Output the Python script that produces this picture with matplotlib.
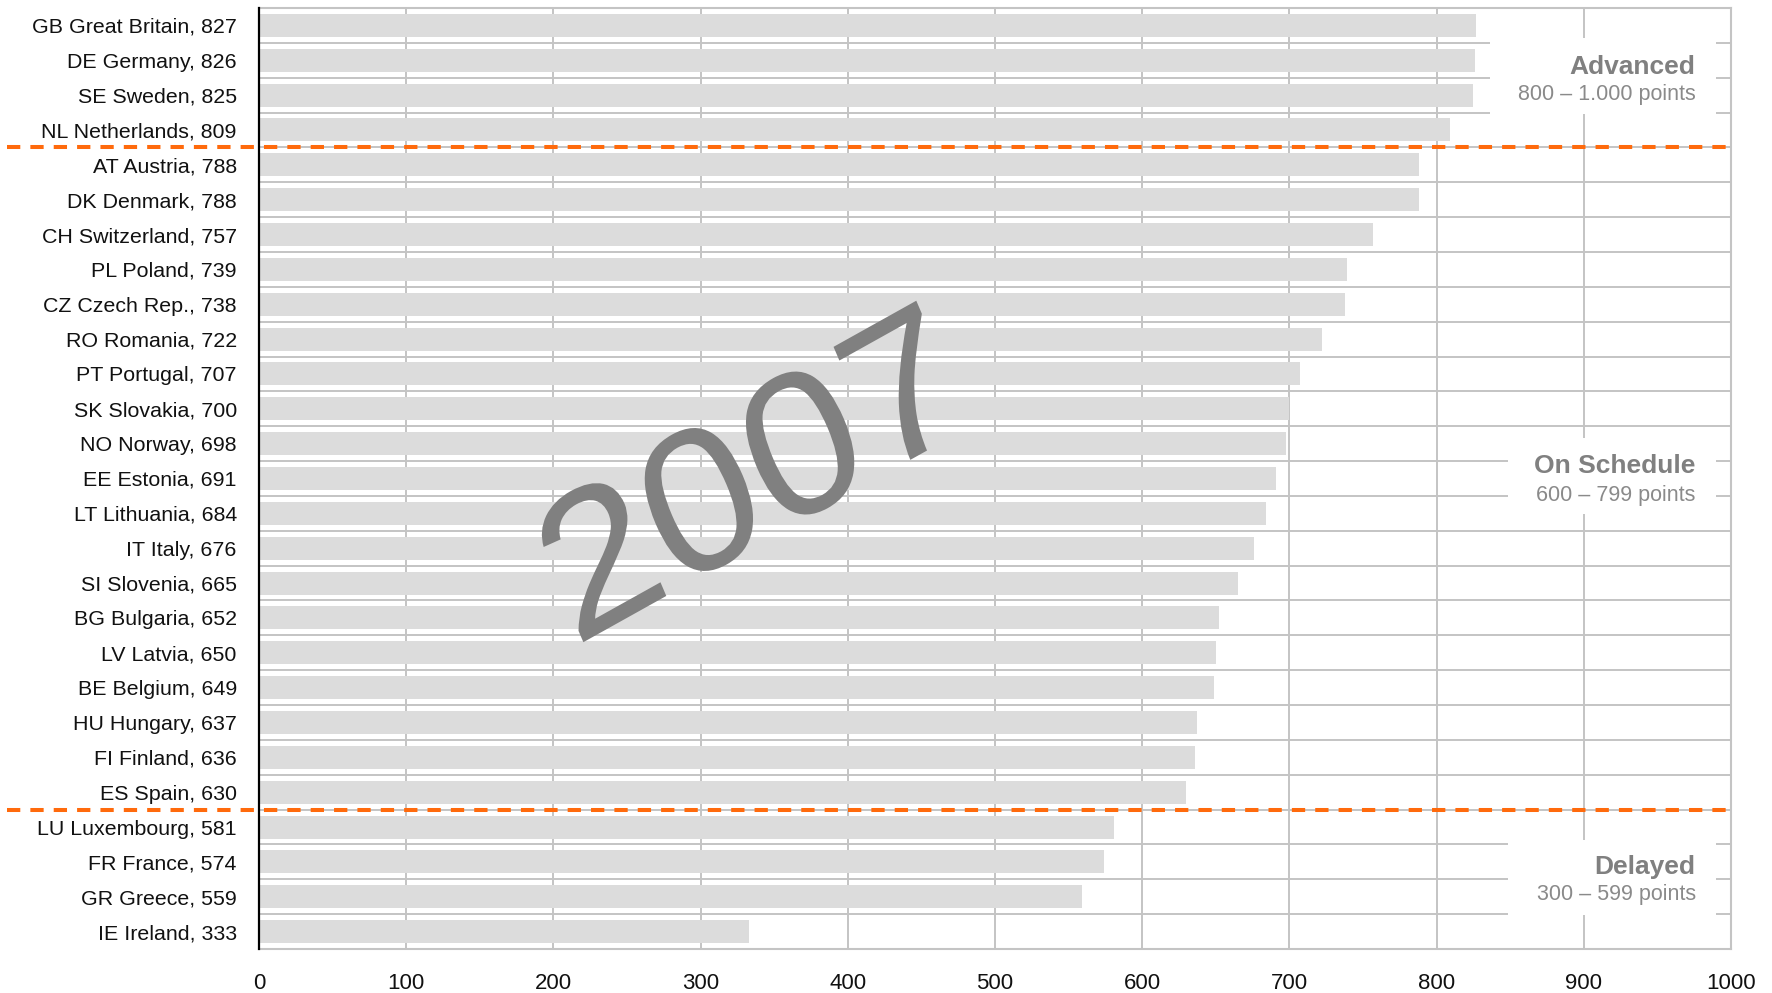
import matplotlib
matplotlib.use("Agg")
import matplotlib.pyplot as plt
import numpy as np
from matplotlib.textpath import TextPath
from matplotlib.font_manager import FontProperties
from matplotlib.patches import PathPatch, Rectangle
from matplotlib.transforms import Affine2D
from matplotlib.lines import Line2D

plt.rcParams['font.family'] = ['Liberation Sans', 'DejaVu Sans']

codes = ["GB", "DE", "SE", "NL", "AT", "DK", "CH", "PL", "CZ", "RO", "PT", "SK", "NO",
         "EE", "LT", "IT", "SI", "BG", "LV", "BE", "HU", "FI", "ES", "LU", "FR", "GR", "IE"]
countries = ["Great Britain", "Germany", "Sweden", "Netherlands", "Austria", "Denmark",
             "Switzerland", "Poland", "Czech Rep.", "Romania", "Portugal", "Slovakia",
             "Norway", "Estonia", "Lithuania", "Italy", "Slovenia", "Bulgaria", "Latvia",
             "Belgium", "Hungary", "Finland", "Spain", "Luxembourg", "France", "Greece",
             "Ireland"]
scores = [827, 826, 825, 809, 788, 788, 757, 739, 738, 722, 707, 700, 698, 691, 684,
          676, 665, 652, 650, 649, 637, 636, 630, 581, 574, 559, 333]
x_ticks = [0, 100, 200, 300, 400, 500, 600, 700, 800, 900, 1000]
group_titles = ["Advanced", "On Schedule", "Delayed"]
group_ranges = ["800 – 1.000 points", "600 – 799 points", "300 – 599 points"]
year_label = "2007"

W, H = 1772, 993
fig = plt.figure(figsize=(W / 100, H / 100), dpi=100)
ax = fig.add_axes([259 / W, 1 - 949 / H, (1731 - 259) / W, (949 - 8) / H])

n = len(scores)
y = np.arange(n)
labels = [f"{c} {nm}, {v}" for c, nm, v in zip(codes, countries, scores)]

ax.barh(y, scores, height=0.66, color="#dcdcdc", zorder=2)
ax.set_xlim(0, 1000)
ax.set_ylim(n - 0.5, -0.5)
ax.set_xticks(x_ticks)
ax.set_xticklabels([str(t) for t in x_ticks], fontsize=16, color="#111111")
ax.set_yticks(y)
ax.set_yticklabels(labels, fontsize=15.4, color="#111111")
ax.set_yticks(np.arange(n - 1) + 0.5, minor=True)
ax.tick_params(axis="x", length=0, pad=17)
ax.tick_params(axis="y", which="both", length=0, pad=16)
ax.grid(axis="x", color="#c4c4c4", linewidth=1.4, zorder=1)
ax.grid(axis="y", which="minor", color="#c4c4c4", linewidth=1.4, zorder=1)
ax.set_axisbelow(True)

for side in ["top", "right", "bottom"]:
    ax.spines[side].set_color("#c4c4c4")
    ax.spines[side].set_linewidth(1.5)
ax.spines["left"].set_color("black")
ax.spines["left"].set_linewidth(1.6)
ax.spines["left"].set_zorder(5)

# dashed group separators (between NL/AT and ES/LU)
sep_rows = [3.5, 22.5]
for yy in sep_rows:
    disp = ax.transData.transform((0, yy))
    fy = disp[1] / H
    ln = Line2D([7 / W, 1729 / W], [fy, fy], transform=fig.transFigure,
                color="#ff6a0c", linewidth=2.9, zorder=10, clip_on=False)
    ln.set_dashes((3.3, 2.5))
    fig.add_artist(ln)

# group label boxes
boxes = [(836, 0.375, 990, 2.53), (848.5, 11.85, 990, 14.03), (848.5, 23.37, 990, 25.52)]
title_y = [1.38, 12.85, 24.35]
range_y = [2.15, 13.65, 25.1]
for (x0, y0, x1, y1), t, r, ty, ry in zip(boxes, group_titles, group_ranges, title_y, range_y):
    ax.add_patch(Rectangle((x0, y0), x1 - x0, y1 - y0, facecolor="white",
                           edgecolor="none", zorder=3))
    ax.text(976, ty, t, ha="right", va="baseline", fontsize=19, fontweight="bold",
            color="#808080", zorder=4)
    ax.text(976, ry, r, ha="right", va="baseline", fontsize=15.5,
            color="#8a8a8a", zorder=4)

# rotated/sheared "2007" watermark
tp = TextPath((0, 0), year_label, size=1, prop=FontProperties(family="Liberation Sans"))
bx, by = 182.0, 101.5
ux, uy = -78.0, 183.0
M = Affine2D(np.array([[bx, ux, 0.0], [by, uy, 0.0], [0.0, 0.0, 1.0]]))
verts = M.transform(tp.vertices)
cx = (verts[:, 0].min() + verts[:, 0].max()) / 2
cy = (verts[:, 1].min() + verts[:, 1].max()) / 2
tx, ty = 733 - cx, (H - 474) - cy
trans = M + Affine2D().translate(tx, ty)
patch = PathPatch(tp, transform=trans, facecolor="#808080", edgecolor="none",
                  zorder=6, clip_on=False)
fig.add_artist(patch)

fig.savefig("out.png", dpi=100)
